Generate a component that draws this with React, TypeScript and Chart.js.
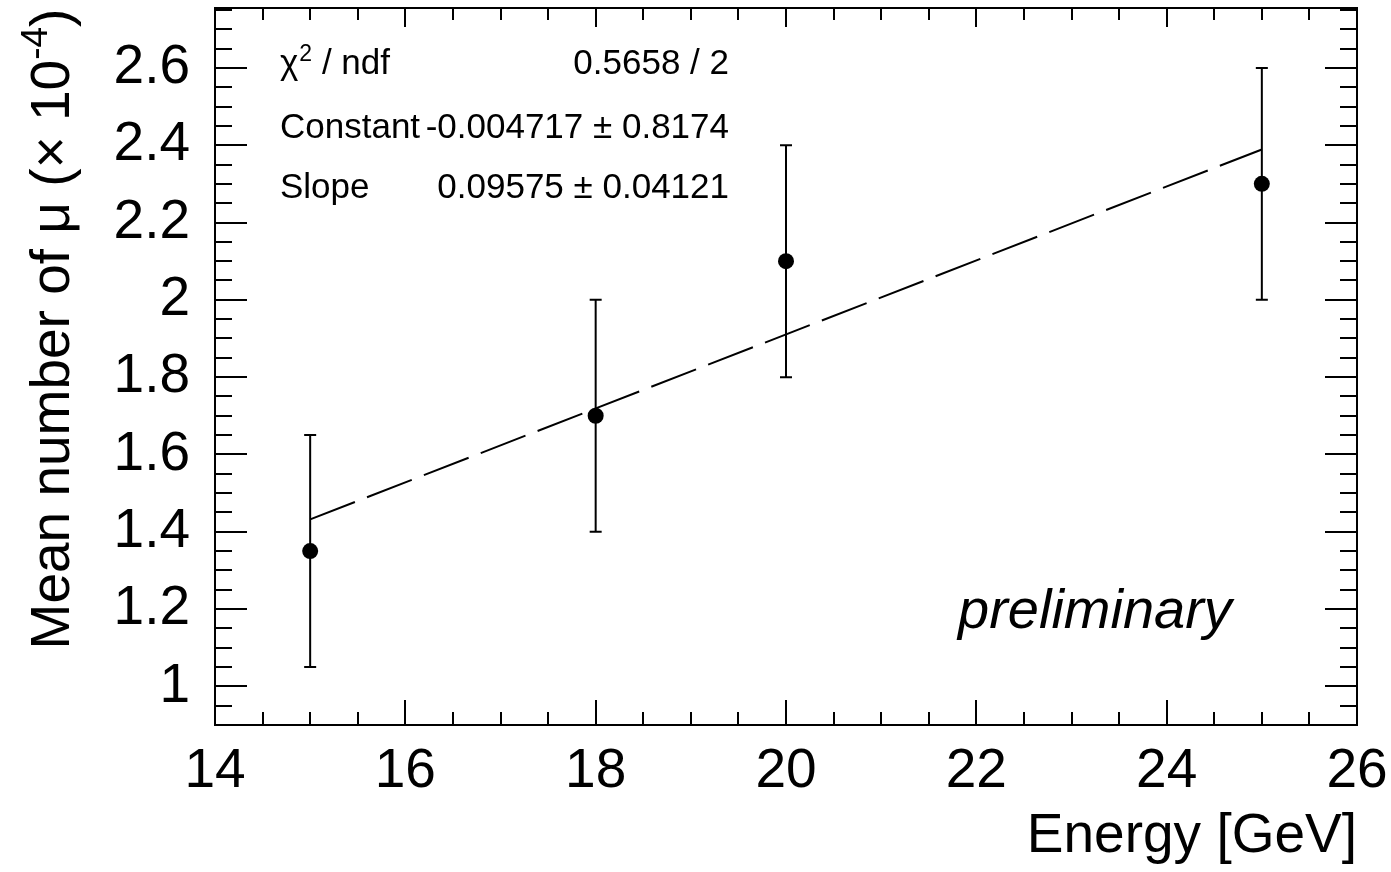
import React, { useEffect, useRef } from "react";
import { Chart, registerables } from "chart.js";

Chart.register(...registerables);

// ---- data ----
const ENERGY = [15, 18, 20, 25];
const MEAN_MU = [1.35, 1.7, 2.1, 2.3];
const ERR_LOW = [1.05, 1.4, 1.8, 2.0];
const ERR_HIGH = [1.65, 2.0, 2.4, 2.6];
const FIT_X = [15, 25];
const FIT_Y = [1.432, 2.389];
const X_TICKS = [14, 16, 18, 20, 22, 24, 26];
const Y_TICKS = [1, 1.2, 1.4, 1.6, 1.8, 2, 2.2, 2.4, 2.6];
const X_MIN = 14, X_MAX = 26, X_MINOR = 0.5;
const Y_MIN = 0.9, Y_MAX = 2.755, Y_MINOR = 0.05;
const STATS = [
  { label: "χ", sup: "2", rest: " / ndf", value: "0.5658 / 2" },
  { label: "Constant", sup: "", rest: "", value: "-0.004717 ± 0.8174" },
  { label: "Slope", sup: "", rest: "", value: "0.09575 ± 0.04121" },
];
const Y_TITLE = { main: "Mean number of μ (× 10", sup: "-4", tail: ")" };
const X_TITLE = "Energy [GeV]";
const NOTE = "preliminary";

const FONT = "'Liberation Sans', Arial, Helvetica, sans-serif";

const overlay = {
  id: "rootStyle",
  beforeDatasetsDraw(chart: any) {
    const ctx = chart.ctx;
    const xs = chart.scales.x, ys = chart.scales.y;
    ctx.save();
    ctx.strokeStyle = "#000";
    ctx.lineWidth = 2;
    ENERGY.forEach((e, i) => {
      const px = xs.getPixelForValue(e);
      const pl = ys.getPixelForValue(ERR_LOW[i]);
      const ph = ys.getPixelForValue(ERR_HIGH[i]);
      ctx.beginPath();
      ctx.moveTo(px, ph);
      ctx.lineTo(px, pl);
      ctx.moveTo(px - 6, ph);
      ctx.lineTo(px + 6, ph);
      ctx.moveTo(px - 6, pl);
      ctx.lineTo(px + 6, pl);
      ctx.stroke();
    });
    ctx.restore();
  },
  afterDraw(chart: any) {
    const ctx = chart.ctx;
    const { left, right, top, bottom } = chart.chartArea;
    const xs = chart.scales.x, ys = chart.scales.y;
    ctx.save();
    ctx.strokeStyle = "#000";
    ctx.lineWidth = 2;
    ctx.strokeRect(left, top, right - left, bottom - top);
    // x ticks (bottom and top)
    ctx.beginPath();
    const nx = Math.round((X_MAX - X_MIN) / X_MINOR);
    for (let k = 1; k < nx; k++) {
      const v = X_MIN + k * X_MINOR;
      const major = X_TICKS.some((t) => Math.abs(t - v) < 1e-6);
      const p = Math.round(xs.getPixelForValue(v));
      ctx.moveTo(p, bottom);
      ctx.lineTo(p, bottom - (major ? 25 : 13));
      ctx.moveTo(p, top);
      ctx.lineTo(p, top + (major ? 19 : 12));
    }
    // y ticks (left and right)
    const ny = Math.floor((Y_MAX - Y_MIN) / Y_MINOR + 1e-6);
    for (let k = 1; k <= ny; k++) {
      const v = Y_MIN + k * Y_MINOR;
      const major = Y_TICKS.some((t) => Math.abs(t - v) < 1e-6);
      const p = Math.round(ys.getPixelForValue(v));
      ctx.moveTo(left, p);
      ctx.lineTo(left + (major ? 32 : 17), p);
      ctx.moveTo(right, p);
      ctx.lineTo(right - (major ? 32 : 17), p);
    }
    ctx.stroke();

    // stats box text
    ctx.fillStyle = "#000";
    ctx.textBaseline = "alphabetic";
    const sf = 35;
    const rows = [74, 138, 198];
    STATS.forEach((s, i) => {
      ctx.font = `${sf}px ${FONT}`;
      ctx.textAlign = "left";
      let x = 280;
      ctx.fillText(s.label, x, rows[i]);
      x += ctx.measureText(s.label).width;
      if (s.sup) {
        ctx.font = `${Math.round(sf * 0.65)}px ${FONT}`;
        ctx.fillText(s.sup, x + 1, rows[i] - 13);
        x += ctx.measureText(s.sup).width + 1;
        ctx.font = `${sf}px ${FONT}`;
      }
      if (s.rest) ctx.fillText(s.rest, x, rows[i]);
      ctx.textAlign = "right";
      ctx.fillText(s.value, 729, rows[i]);
    });

    // preliminary
    ctx.font = `italic 56px ${FONT}`;
    ctx.textAlign = "left";
    ctx.fillText(NOTE, 958, 628);

    // y title, rotated
    const tf = 55;
    ctx.translate(69, 329);
    ctx.rotate(-Math.PI / 2);
    ctx.font = `${tf}px ${FONT}`;
    const w1 = ctx.measureText(Y_TITLE.main).width;
    ctx.font = `${Math.round(tf * 0.68)}px ${FONT}`;
    const w2 = ctx.measureText(Y_TITLE.sup).width;
    ctx.font = `${tf}px ${FONT}`;
    const w3 = ctx.measureText(Y_TITLE.tail).width;
    let x0 = -(w1 + w2 + w3) / 2;
    ctx.textAlign = "left";
    ctx.fillText(Y_TITLE.main, x0, 0);
    x0 += w1;
    ctx.font = `${Math.round(tf * 0.68)}px ${FONT}`;
    ctx.fillText(Y_TITLE.sup, x0, -22);
    x0 += w2;
    ctx.font = `${tf}px ${FONT}`;
    ctx.fillText(Y_TITLE.tail, x0, 0);
    ctx.restore();
  },
};

const zeroPad = (s: any) => {
  s.paddingTop = 0;
  s.paddingBottom = 0;
  s.paddingLeft = 0;
  s.paddingRight = 0;
};

export default function App() {
  const ref = useRef<HTMLCanvasElement | null>(null);
  useEffect(() => {
    if (!ref.current) return;
    const chart = new Chart(ref.current, {
      type: "scatter",
      data: {
        datasets: [
          {
            type: "line",
            data: FIT_X.map((x, i) => ({ x, y: FIT_Y[i] })),
            borderColor: "#000",
            borderWidth: 2,
            borderDash: [48, 13],
            pointRadius: 0,
            fill: false,
            order: 2,
          } as any,
          {
            data: ENERGY.map((x, i) => ({ x, y: MEAN_MU[i] })),
            pointRadius: 8,
            backgroundColor: "#000",
            borderColor: "#000",
            borderWidth: 0,
            order: 1,
          },
        ],
      },
      options: {
        animation: false,
        responsive: false,
        maintainAspectRatio: false,
        devicePixelRatio: 1,
        layout: { padding: { top: 8, right: 34, left: 0, bottom: 0 } },
        plugins: { legend: { display: false }, tooltip: { enabled: false } },
        scales: {
          x: {
            type: "linear",
            min: X_MIN,
            max: X_MAX,
            afterBuildTicks: (s: any) => {
              s.ticks = X_TICKS.map((v) => ({ value: v }));
            },
            grid: { display: false, drawTicks: false },
            border: { display: false },
            ticks: {
              color: "#000",
              font: { family: FONT, size: 55 },
              padding: 14,
              maxRotation: 0,
              autoSkip: false,
              callback: (v: any) => String(v),
            },
            title: {
              display: true,
              text: X_TITLE,
              align: "end",
              color: "#000",
              font: { family: FONT, size: 55 },
              padding: { top: 0, bottom: 2 },
            },
            afterFit: (s: any) => {
              s.height = 147;
              zeroPad(s);
            },
          },
          y: {
            type: "linear",
            min: Y_MIN,
            max: Y_MAX,
            afterBuildTicks: (s: any) => {
              s.ticks = Y_TICKS.map((v) => ({ value: v }));
            },
            grid: { display: false, drawTicks: false },
            border: { display: false },
            ticks: {
              color: "#000",
              font: { family: FONT, size: 55 },
              padding: 25,
              autoSkip: false,
              callback: (v: any) => String(Math.round(v * 10) / 10),
            },
            afterFit: (s: any) => {
              s.width = 215;
              zeroPad(s);
            },
          },
        },
      } as any,
      plugins: [overlay],
    });
    return () => chart.destroy();
  }, []);
  return (
    <div style={{ position: "absolute", left: 0, top: 0, width: 1391, height: 872, background: "#fff" }}>
      <canvas ref={ref} width={1391} height={872} style={{ display: "block" }} />
    </div>
  );
}
